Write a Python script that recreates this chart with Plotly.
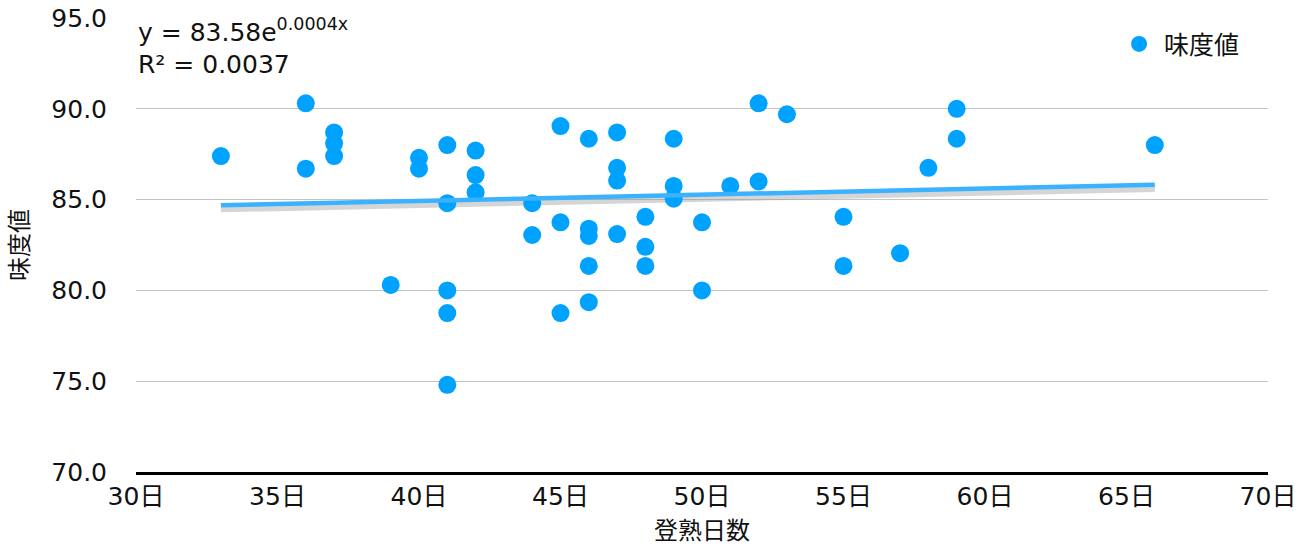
import numpy as np
import plotly.graph_objects as go

# 登熟日数 (days) and 味度値 (taste value)
days = [33, 36, 36, 37, 37, 37, 39, 40, 40,
        41, 41, 41, 41, 41, 42, 42, 42,
        44, 44, 45, 45, 45,
        46, 46, 46, 46, 46,
        47, 47, 47, 47,
        48, 48, 48, 49, 49, 49,
        50, 50, 51, 52, 52, 53,
        55, 55, 57, 58, 59, 59, 66]
taste = [87.4, 90.3, 86.7, 88.7, 88.1, 87.4, 80.3, 87.3, 86.7,
         88.0, 84.8, 80.0, 78.75, 74.8, 87.7, 86.35, 85.4,
         84.8, 83.05, 89.05, 83.75, 78.75,
         88.35, 83.4, 83.0, 81.35, 79.35,
         88.7, 86.75, 86.05, 83.1,
         84.05, 82.4, 81.35, 88.35, 85.75, 85.05,
         83.75, 80.0, 85.75, 90.3, 86.0, 89.7,
         84.05, 81.35, 82.05, 86.75, 90.0, 88.35, 88.0]

# exponential trendline as shown in the chart label
trend_a = 83.58
trend_b = 0.0004
eq_text = "y = 83.58e<sup>0.0004x</sup>"
r2_text = "R² = 0.0037"

x_ticks = [30, 35, 40, 45, 50, 55, 60, 65, 70]
x_ticktext = [f"{v}日" for v in x_ticks]
y_ticks = [70, 75, 80, 85, 90, 95]
y_ticktext = [f"{v:.1f}" for v in y_ticks]

FONT = "DejaVu Sans, Noto Sans CJK JP, sans-serif"
CJK = "Noto Sans CJK JP, DejaVu Sans, sans-serif"

tx = np.linspace(min(days), max(days), 60)
ty = trend_a * np.exp(trend_b * tx)

fig = go.Figure()
# soft shadow under trendline
fig.add_trace(go.Scatter(x=tx, y=ty - 0.2, mode="lines",
                         line=dict(color="rgba(150,150,150,0.4)", width=7),
                         hoverinfo="skip", showlegend=False))
fig.add_trace(go.Scatter(x=days, y=taste, mode="markers", name="味度値",
                         marker=dict(color="#00A2FF", size=18, line=dict(width=0))))
fig.add_trace(go.Scatter(x=tx, y=ty, mode="lines",
                         line=dict(color="#3BB2FF", width=4.5),
                         hoverinfo="skip", showlegend=False))

fig.update_layout(
    width=1311, height=549,
    margin=dict(l=136, r=43, t=18, b=77),
    paper_bgcolor="white", plot_bgcolor="white",
    font=dict(family=FONT, size=25, color="#111111"),
    showlegend=True,
    legend=dict(x=0.864, y=0.993, xanchor="left", yanchor="top",
                bgcolor="rgba(0,0,0,0)", itemwidth=40,
                font=dict(size=25, family=CJK)),
    xaxis=dict(range=[30, 70], tickvals=x_ticks, ticktext=x_ticktext,
               showgrid=False, zeroline=False, showline=True,
               linecolor="black", linewidth=2.5, ticks="",
               automargin=False,
               title=dict(text="登熟日数", standoff=13,
                          font=dict(size=24, family=CJK))),
    yaxis=dict(range=[70, 95], tickvals=y_ticks, ticktext=y_ticktext,
               showgrid=True, gridcolor="#c4c4c4", gridwidth=1,
               zeroline=False, showline=False, ticks="",
               ticklabelstandoff=28, automargin=False,
               title=dict(text="味度値", standoff=18,
                          font=dict(size=24, family=CJK))),
    annotations=[
        dict(xref="paper", yref="paper", x=0.0, y=1.0, xanchor="left", yanchor="top",
             yshift=6, text=eq_text + "<br>" + r2_text, showarrow=False, align="left",
             font=dict(size=25, color="#111111")),
    ],
)

fig.write_html("out.html", config={"displayModeBar": False},
               post_script="document.body.style.margin='0';")
